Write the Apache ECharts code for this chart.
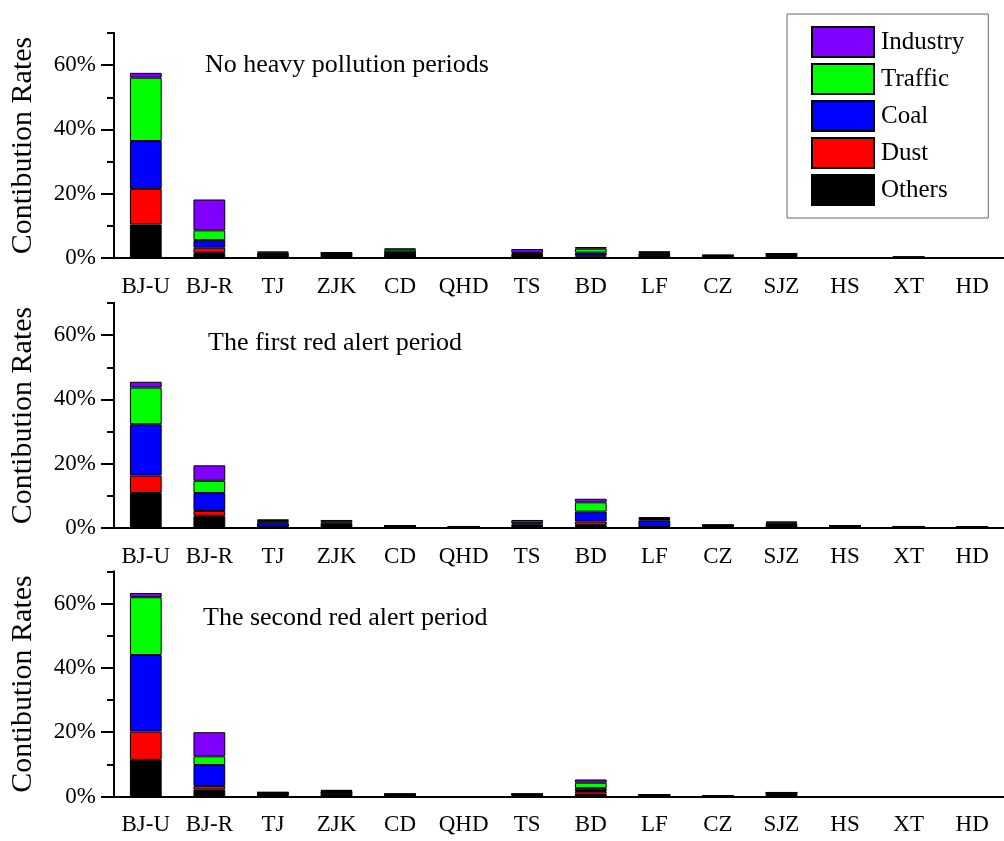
<!DOCTYPE html>
<html>
<head>
<meta charset="utf-8">
<script src="https://cdn.jsdelivr.net/npm/echarts@6/dist/echarts.min.js"></script>
<style>html,body{margin:0;padding:0;background:#fff}#c{width:1004px;height:841px}</style>
</head>
<body>
<div id="c"></div>
<script>
const categories = ['BJ-U','BJ-R','TJ','ZJK','CD','QHD','TS','BD','LF','CZ','SJZ','HS','XT','HD'];
const yTickValues = [0, 20, 40, 60];
const seriesNames = ['Others','Dust','Coal','Traffic','Industry'];
const legendOrder = ['Industry','Traffic','Coal','Dust','Others'];
const panelTitles = ['No heavy pollution periods','The first red alert period','The second red alert period'];

// Panel 1: No heavy pollution periods
const others1   = [10.4, 1.6, 1.0, 1.2, 1.5, 0, 0.8, 0.5, 1.0, 0.5, 0.9, 0, 0.2, 0];
const dust1     = [11.1, 1.6, 0.1, 0.1, 0.1, 0, 0.1, 0.3, 0.1, 0.1, 0.1, 0, 0, 0];
const coal1     = [14.9, 2.4, 0.2, 0.1, 0.2, 0, 0.4, 0.9, 0.4, 0.1, 0.2, 0, 0, 0];
const traffic1  = [19.7, 3.0, 0.4, 0.2, 0.8, 0, 0.3, 1.2, 0.3, 0.1, 0.1, 0, 0.1, 0];
const industry1 = [1.5, 9.6, 0.3, 0.2, 0.4, 0, 1.2, 0.5, 0.2, 0.2, 0.2, 0, 0, 0];

// Panel 2: The first red alert period
const others2   = [10.9, 3.8, 0.3, 0.9, 0.4, 0.3, 0.5, 0.9, 0.2, 0.6, 0.9, 0.5, 0.3, 0.3];
const dust2     = [5.4, 1.5, 0.1, 0.1, 0.1, 0.05, 0.1, 1.1, 0.1, 0.1, 0.1, 0.1, 0.05, 0.05];
const coal2     = [16.0, 5.6, 1.2, 0.2, 0.1, 0.05, 0.4, 3.1, 2.1, 0.1, 0.3, 0.1, 0.05, 0];
const traffic2  = [11.4, 3.8, 0.6, 0.6, 0.1, 0.05, 0.5, 2.9, 0.4, 0.1, 0.4, 0.05, 0.05, 0];
const industry2 = [1.8, 4.8, 0.5, 0.7, 0.1, 0.05, 1.0, 1.1, 0.6, 0.1, 0.3, 0.05, 0.05, 0.05];

// Panel 3: The second red alert period
const others3   = [11.4, 2.2, 0.8, 1.2, 0.5, 0, 0.5, 0.9, 0.3, 0.1, 0.8, 0, 0, 0];
const dust3     = [8.8, 1.1, 0.1, 0.1, 0.1, 0, 0.1, 0.8, 0.1, 0, 0.1, 0, 0, 0];
const coal3     = [23.8, 6.5, 0.2, 0.1, 0.1, 0, 0.1, 0.9, 0.1, 0, 0.2, 0, 0, 0];
const traffic3  = [18.0, 2.7, 0.1, 0.4, 0.05, 0, 0.05, 1.7, 0, 0, 0.1, 0, 0, 0];
const industry3 = [1.3, 7.5, 0.2, 0.2, 0.05, 0, 0.05, 1.0, 0, 0, 0.1, 0, 0, 0];

const panels = [
  [others1, dust1, coal1, traffic1, industry1],
  [others2, dust2, coal2, traffic2, industry2],
  [others3, dust3, coal3, traffic3, industry3]
];
const colors = {Others:'#000000', Dust:'#ff0000', Coal:'#0000ff', Traffic:'#00ff00', Industry:'#8000ff'};

const FONT = '"Liberation Serif", "Times New Roman", serif';
const gridTops = [33, 303, 571.5];
const gridH = 225;
const titleTops = [52, 330, 605];
const titleLefts = [205, 208, 203];

const grids = [], xAxes = [], yAxes = [], series = [], titles = [];
for (let p = 0; p < 3; p++) {
  grids.push({left: 114, right: -8, top: gridTops[p], height: gridH, containLabel: false});
  titles.push({text: panelTitles[p], left: titleLefts[p], top: titleTops[p], padding: 0,
    textStyle: {fontFamily: FONT, fontSize: 26, fontWeight: 'normal', color: '#000'}});
  xAxes.push({type: 'category', gridIndex: p, data: categories, position: 'bottom',
    axisLine: {lineStyle: {color: '#000', width: 2}},
    axisTick: {alignWithLabel: true, length: 14, lineStyle: {color: '#000', width: 2}},
    axisLabel: {color: '#000', fontFamily: FONT, fontSize: 23, margin: 17, interval: 0}});
  xAxes.push({type: 'category', gridIndex: p, data: categories, position: 'bottom',
    axisLine: {lineStyle: {color: '#000', width: 2}},
    axisTick: {alignWithLabel: false, length: 8, lineStyle: {color: '#000', width: 2}},
    axisLabel: {show: false}});
  yAxes.push({type: 'value', gridIndex: p, min: 0, max: 70, interval: 10, position: 'left',
    name: 'Contibution Rates', nameLocation: 'middle', nameGap: 76,
    nameTextStyle: {fontFamily: FONT, fontSize: 30, color: '#000'},
    splitLine: {show: false},
    axisLine: {show: true, lineStyle: {color: '#000', width: 2}},
    axisTick: {show: true, customValues: yTickValues, length: 13, lineStyle: {color: '#000', width: 2}},
    axisLabel: {customValues: yTickValues, formatter: '{value}%', color: '#000', fontFamily: FONT, fontSize: 23, margin: 18}});
  yAxes.push({type: 'value', gridIndex: p, min: 0, max: 70, interval: 10, position: 'left',
    splitLine: {show: false},
    axisLine: {show: true, lineStyle: {color: '#000', width: 2}},
    axisTick: {show: true, length: 7, lineStyle: {color: '#000', width: 2}},
    axisLabel: {show: false}});
  for (let s = 0; s < 5; s++) {
    const name = seriesNames[s];
    series.push({type: 'bar', name: name, xAxisIndex: p * 2, yAxisIndex: p * 2, stack: 'p' + p,
      barWidth: '50%', data: panels[p][s],
      itemStyle: {color: colors[name], borderColor: '#000', borderWidth: 1},
      emphasis: {disabled: true}});
  }
}

const chart = echarts.init(document.getElementById('c'), null, {renderer: 'canvas'});
chart.setOption({
  animation: false,
  backgroundColor: '#fff',
  title: titles,
  grid: grids,
  xAxis: xAxes,
  yAxis: yAxes,
  legend: {data: legendOrder, orient: 'vertical', left: 787, top: 14,
    padding: [12, 24, 12, 24], itemWidth: 62, itemHeight: 30, itemGap: 5,
    borderColor: '#666', borderWidth: 1, icon: 'rect', selectedMode: false,
    textStyle: {fontFamily: FONT, fontSize: 25, color: '#000', padding: [0, 0, 0, 2]}},
  series: series
});
</script>
</body>
</html>
